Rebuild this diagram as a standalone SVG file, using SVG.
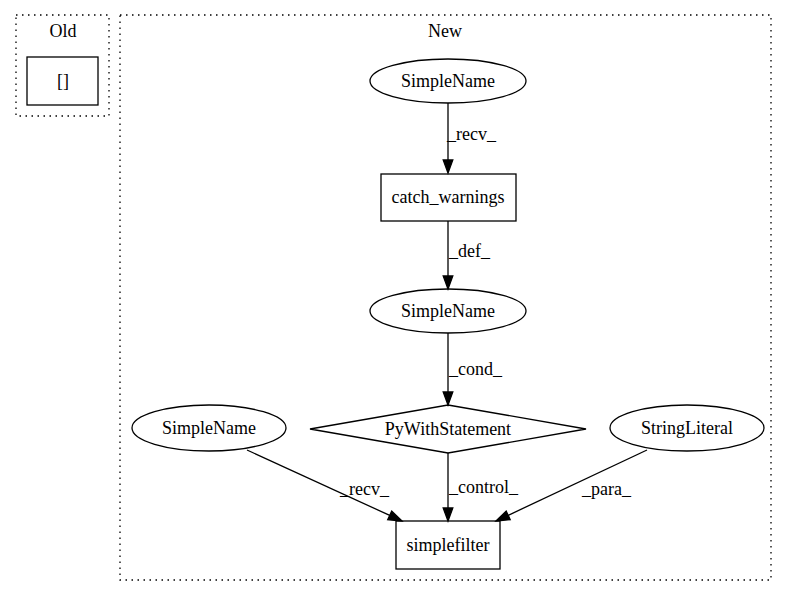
<svg xmlns="http://www.w3.org/2000/svg" width="787" height="596" viewBox="0 0 787 596">
<style>
text{font-family:"Liberation Serif","Times New Roman",serif;font-size:18px;fill:#000}
.c{text-anchor:middle}
.cl{fill:none;stroke:#000;stroke-width:1.3;stroke-dasharray:1.5,4.5}
.n{fill:#fff;stroke:#000;stroke-width:1.3}
.e line{stroke:#000;stroke-width:1.3}
.e polygon{fill:#000;stroke:#000;stroke-width:1.3}
</style>
<rect width="787" height="596" fill="#fff"/>
<g id="cluster_old">
<rect class="cl" x="16" y="15" width="93" height="101"/>
<text class="c" x="63" y="37">Old</text>
</g>
<g id="cluster_new">
<rect class="cl" x="120" y="15" width="651" height="565"/>
<text class="c" x="445" y="37">New</text>
</g>
<g id="n_old">
<rect class="n" x="27" y="57" width="71" height="48"/>
<text class="c" x="63" y="87">[]</text>
</g>
<g id="n_simplename1">
<ellipse class="n" cx="448" cy="81" rx="78" ry="22"/>
<text class="c" x="448" y="87">SimpleName</text>
</g>
<g id="n_catch_warnings">
<rect class="n" x="381" y="174" width="135" height="47"/>
<text class="c" x="448" y="203">catch_warnings</text>
</g>
<g id="n_simplename2">
<ellipse class="n" cx="448" cy="311" rx="78" ry="22"/>
<text class="c" x="448" y="317">SimpleName</text>
</g>
<g id="n_pywith">
<polygon class="n" points="448,405 586,429 448,453 310,429"/>
<text class="c" x="448" y="435">PyWithStatement</text>
</g>
<g id="n_simplename3">
<ellipse class="n" cx="209" cy="428" rx="77" ry="23"/>
<text class="c" x="209" y="434">SimpleName</text>
</g>
<g id="n_stringliteral">
<ellipse class="n" cx="687" cy="428" rx="77" ry="23"/>
<text class="c" x="687" y="434">StringLiteral</text>
</g>
<g id="n_simplefilter">
<rect class="n" x="396" y="521" width="104" height="48"/>
<text class="c" x="448" y="551">simplefilter</text>
</g>
<g id="edges" class="e">
<line x1="448" y1="103" x2="448" y2="160"/>
<polygon points="448,173 443.2,160 452.8,160"/>
<text x="447" y="140">_recv_</text>
<line x1="448" y1="221" x2="448" y2="276"/>
<polygon points="448,289 443.2,276 452.8,276"/>
<text x="449" y="257">_def_</text>
<line x1="448" y1="333" x2="448" y2="392"/>
<polygon points="448,405 443.2,392 452.8,392"/>
<text x="449" y="375">_cond_</text>
<line x1="448" y1="453" x2="448" y2="508"/>
<polygon points="448,521 443.2,508 452.8,508"/>
<text x="449" y="493">_control_</text>
<line x1="247" y1="450" x2="389.7" y2="515.4"/>
<polygon points="402,521 387.7,519.8 391.7,511"/>
<text x="340" y="495">_recv_</text>
<line x1="647" y1="450" x2="508.2" y2="515.3"/>
<polygon points="496,521 510.2,519.7 506.2,511"/>
<text x="582" y="495">_para_</text>
</g>
</svg>
